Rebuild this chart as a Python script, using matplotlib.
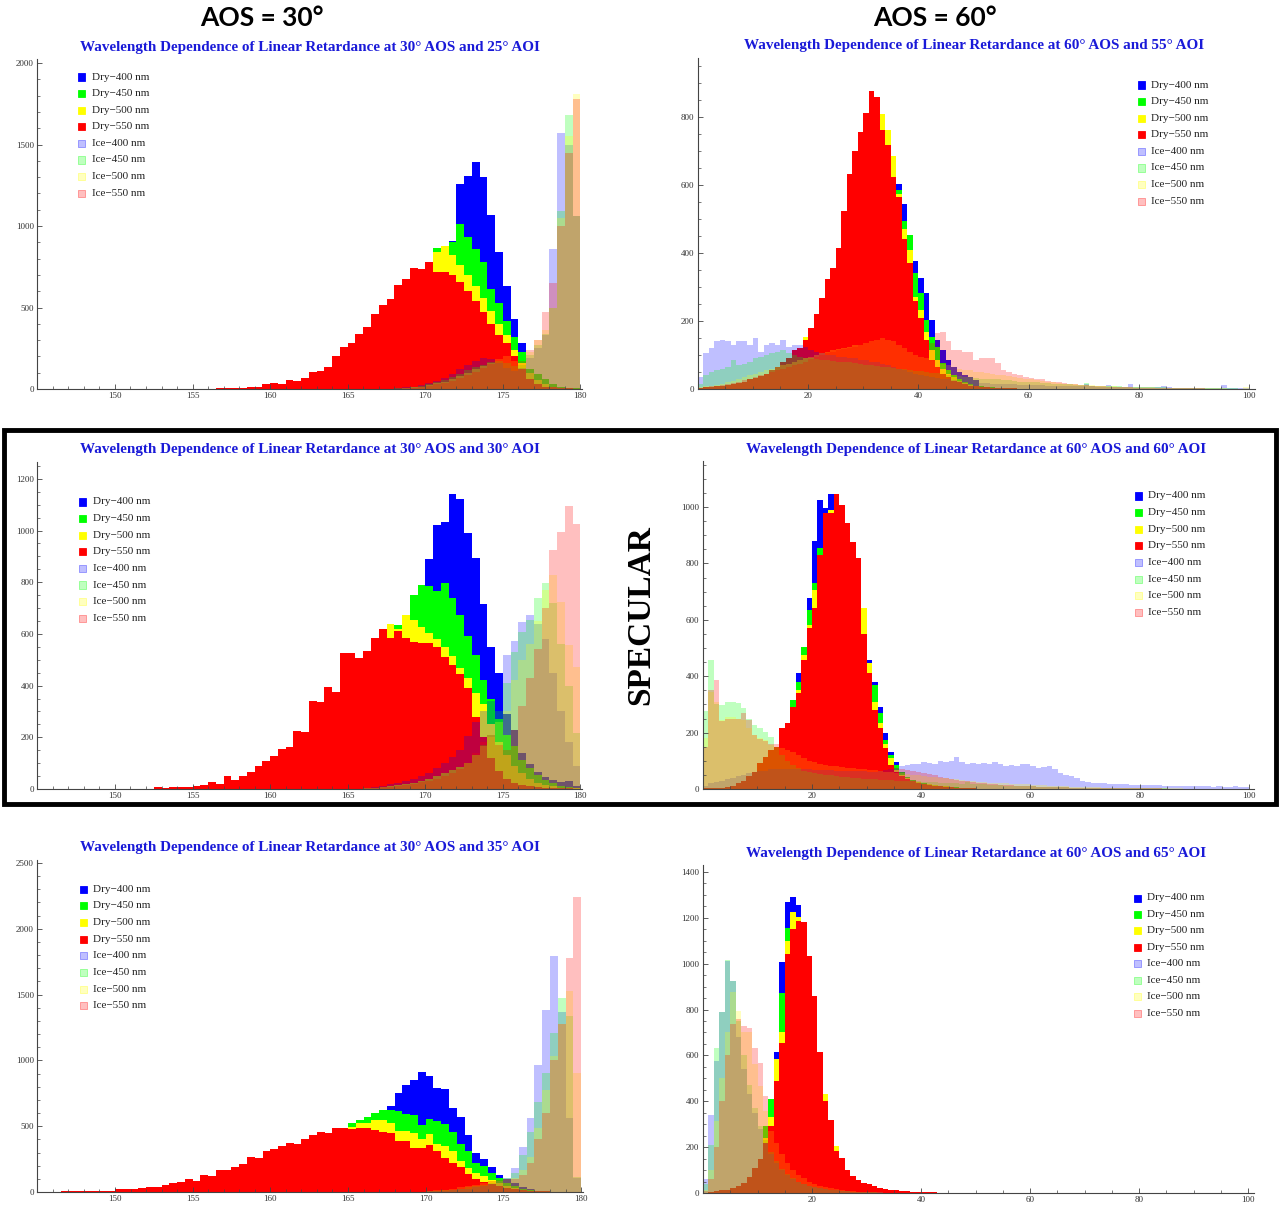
import numpy as np
import matplotlib.pyplot as plt
from matplotlib.patches import Rectangle
from matplotlib.ticker import FixedLocator, MultipleLocator

plt.rcParams['font.family'] = ['Liberation Serif', 'DejaVu Serif']

W, H = 1280, 1209

LABELS = ['Dry\u2212400 nm', 'Dry\u2212450 nm', 'Dry\u2212500 nm', 'Dry\u2212550 nm',
          'Ice\u2212400 nm', 'Ice\u2212450 nm', 'Ice\u2212500 nm', 'Ice\u2212550 nm']
COLORS = ['#0000ff', '#00ff00', '#ffff00', '#ff0000']
ICE_ALPHA = 0.25

# ---------------- 30° AOS, 25° AOI (bins of 0.5°) ----------------
tl_dry_start = 156.5
tl_dry400 = [1, 3, 1, 2, 4, 6, 10, 15, 10, 20, 20, 30, 50, 60, 80, 120,
             160, 180, 220, 260, 310, 360, 400, 460, 500, 560, 600, 660,
             720, 800, 910, 1260, 1305, 1390, 1300, 1065, 840, 635, 430, 285, 100, 50, 20, 10, 5, 3, 2]
tl_dry450 = [2, 4, 2, 3, 6, 8, 15, 20, 15, 30, 30, 40, 65, 75, 95, 150,
             190, 210, 260, 300, 360, 410, 450, 520, 560, 620, 650, 720,
             865, 860, 900, 1015, 935, 860, 780, 615, 530, 420, 320, 225, 120, 90, 60, 30, 15, 8, 4]
tl_dry500 = [3, 5, 3, 4, 8, 10, 20, 25, 20, 40, 38, 50, 80, 90, 110, 170,
             220, 240, 290, 330, 400, 450, 490, 570, 610, 680, 700, 760,
             840, 875, 820, 760, 700, 630, 560, 480, 400, 330, 240, 160, 100, 55, 30, 15, 8, 5, 3]
tl_dry550 = [5, 8, 4, 6, 12, 15, 30, 35, 28, 58, 50, 65, 105, 110, 135, 205,
             260, 280, 335, 380, 460, 515, 550, 640, 675, 745, 735, 778,
             720, 715, 700, 655, 600, 540, 470, 400, 330, 280, 200, 120, 60, 30, 15, 10, 5, 4, 3]
tl_ice_start = 168.0
tl_ice400 = [5, 10, 15, 25, 35, 50, 70, 95, 120, 145, 170, 190, 185, 160, 130, 110, 130, 190, 250, 330, 860, 1570, 1500, 1060]
tl_ice450 = [5, 8, 12, 20, 30, 40, 55, 75, 95, 115, 135, 150, 165, 170, 160, 140, 150, 210, 270, 340, 500, 1090, 1680, 1060]
tl_ice500 = [3, 6, 10, 15, 25, 35, 45, 60, 80, 100, 120, 140, 160, 185, 200, 170, 160, 230, 300, 360, 500, 1050, 1550, 1810]
tl_ice550 = [2, 5, 8, 12, 20, 28, 38, 50, 65, 85, 105, 130, 155, 185, 210, 190, 170, 240, 300, 470, 650, 1000, 1450, 1780]

# ---------------- 30° AOS, 30° AOI ----------------
ml_dry_start = 152.5
ml_dry400 = [2, 1, 2, 1, 3, 4, 6, 10, 8, 20, 15, 25, 35, 45, 55, 70, 85, 95, 130, 140,
             200, 220, 260, 270, 360, 390, 400, 430, 470, 510,
             540, 580, 620, 680, 740, 889, 1021, 1034, 1143, 1120, 990, 893, 715, 548, 447,
             290, 230, 140, 97, 67, 48, 35, 28, 31, 13]
ml_dry450 = [3, 1, 3, 2, 4, 6, 8, 12, 10, 25, 20, 30, 40, 50, 65, 85, 100, 110, 150, 160,
             230, 250, 290, 300, 400, 430, 440, 470, 520, 560,
             600, 635, 660, 750, 790, 785, 765, 795, 740, 672, 592, 518, 421, 350, 270,
             210, 165, 112, 80, 55, 35, 22, 13, 8, 5]
ml_dry500 = [4, 2, 4, 3, 5, 8, 10, 15, 12, 30, 25, 35, 45, 60, 75, 95, 115, 125, 170, 180,
             260, 280, 320, 330, 430, 460, 470, 500, 550, 590,
             640, 620, 672, 655, 628, 605, 580, 550, 515, 470, 430, 370, 330, 250, 180,
             130, 90, 60, 40, 25, 15, 10, 5, 3, 2]
ml_dry550 = [9, 3, 8, 6, 9, 13, 15, 26, 19, 52, 35, 52, 67, 89, 108, 129, 155, 162, 225, 222,
             342, 338, 393, 376, 525, 527, 505, 534, 585, 619,
             583, 611, 583, 567, 563, 563, 549, 512, 480, 443, 389, 280, 200, 120, 70,
             40, 25, 15, 10, 6, 4, 3, 2, 2, 1]
ml_ice_start = 166.0
ml_ice400 = [5, 8, 12, 18, 25, 32, 40, 50, 62, 80, 100, 125, 150, 205, 258, 300, 340, 420, 518, 572, 647, 673, 640, 580, 450, 300, 180, 90]
ml_ice450 = [3, 5, 8, 12, 16, 20, 25, 32, 40, 50, 60, 72, 85, 100, 130, 170, 209, 300, 409, 531, 608, 653, 737, 795, 720, 560, 400, 215]
ml_ice500 = [3, 5, 8, 12, 16, 20, 25, 32, 40, 50, 60, 72, 85, 100, 130, 165, 200, 260, 300, 420, 500, 560, 650, 770, 827, 724, 557, 473]
ml_ice550 = [2, 4, 6, 9, 12, 16, 20, 26, 32, 40, 50, 62, 78, 100, 140, 180, 209, 170, 150, 230, 320, 430, 540, 700, 924, 995, 1094, 1027]

# ---------------- 30° AOS, 35° AOI ----------------
bl_dry_start = 146.5
bl_dry400 = [2, 2, 1, 2, 1, 4, 4, 8, 10, 9, 13, 16, 15, 21, 28, 34, 45, 40, 62, 60,
             85, 90, 105, 120, 155, 155, 195, 210, 235, 260, 265, 300, 330, 360, 365, 410, 440,
             470, 500, 530, 570, 600, 650, 755, 810, 850, 915, 880, 790, 780, 640, 570, 430,
             300, 250, 190, 130, 100, 70, 40, 20, 10, 5, 3, 2, 1, 1]
bl_dry450 = [3, 3, 2, 3, 2, 5, 5, 10, 12, 11, 16, 20, 19, 26, 35, 42, 55, 48, 75, 72,
             100, 105, 125, 140, 180, 180, 225, 240, 265, 290, 290, 325, 355, 385, 385, 430, 460,
             527, 545, 570, 603, 621, 621, 616, 590, 583, 510, 553, 540, 515, 456, 362, 312,
             223, 198, 147, 109, 71, 45, 25, 15, 8, 5, 3, 2, 1, 1]
bl_dry500 = [4, 4, 3, 4, 3, 6, 6, 12, 15, 14, 20, 25, 24, 32, 42, 50, 66, 58, 90, 88,
             120, 125, 145, 165, 205, 205, 250, 265, 290, 315, 315, 350, 380, 410, 410, 450, 470,
             495, 522, 527, 548, 548, 527, 464, 464, 446, 400, 438, 362, 350, 312, 236, 185,
             147, 122, 89, 66, 46, 30, 18, 10, 6, 4, 3, 2, 1, 1]
bl_dry550 = [8, 8, 6, 8, 6, 10, 10, 20, 25, 23, 33, 41, 38, 51, 66, 76, 101, 84, 129, 122,
             167, 167, 193, 215, 269, 261, 312, 324, 350, 375, 365, 400, 431, 456, 446, 489, 484,
             477, 484, 487, 469, 456, 451, 388, 388, 337, 332, 357, 312, 261, 223, 193, 134,
             96, 76, 58, 46, 30, 20, 12, 8, 5, 4, 3, 2, 2, 1]
bl_ice_start = 170.0
bl_ice400 = [5, 8, 10, 15, 20, 25, 35, 45, 60, 80, 110, 180, 344, 560, 965, 1383, 1790, 1370, 560, 110]
bl_ice450 = [5, 8, 12, 18, 25, 35, 45, 55, 70, 90, 110, 142, 281, 458, 686, 902, 1210, 1472, 1340, 115]
bl_ice500 = [8, 12, 18, 25, 35, 45, 55, 65, 75, 85, 95, 110, 167, 268, 484, 775, 1030, 1280, 1530, 905]
bl_ice550 = [10, 15, 20, 30, 40, 50, 60, 70, 80, 90, 95, 100, 130, 220, 400, 600, 1000, 1280, 1780, 2240]

# ---------------- 60° AOS, 55° AOI (bins of 1°) ----------------
tr_dry_start = 0.0
tr_dry400 = [1, 2, 3, 4, 6, 8, 10, 12, 15, 18, 22, 26, 30, 36, 44, 54, 65, 80, 95, 120,
             150, 190, 230, 280, 310, 360, 460, 560, 630, 690, 740, 780, 780, 740, 700, 650, 603, 545, 430, 377,
             326, 282, 203, 144, 115, 85, 66, 51, 41, 36, 27, 10, 6, 5, 4, 3, 2, 2, 1, 1]
tr_dry450 = [1, 2, 3, 5, 7, 9, 11, 14, 17, 20, 24, 28, 33, 40, 48, 58, 70, 85, 100, 130,
             160, 200, 240, 300, 330, 380, 480, 580, 650, 710, 760, 800, 800, 760, 720, 660, 585, 493, 454, 341,
             282, 203, 154, 125, 76, 55, 40, 30, 22, 15, 10, 8, 6, 5, 4, 3, 2, 2, 1, 1]
tr_dry500 = [1, 3, 4, 6, 8, 10, 12, 15, 18, 22, 26, 30, 36, 44, 52, 62, 75, 90, 110, 152,
             175, 215, 260, 318, 350, 405, 515, 620, 690, 750, 805, 860, 850, 808, 761, 684, 575, 470, 410, 272,
             233, 169, 115, 85, 60, 45, 35, 25, 18, 12, 8, 6, 5, 4, 3, 2, 2, 1, 1, 1]
tr_dry550 = [2, 5, 5, 8, 10, 12, 15, 18, 22, 28, 32, 38, 45, 55, 65, 78, 92, 115, 120, 145,
             178, 222, 267, 325, 355, 414, 524, 632, 700, 757, 813, 877, 859, 761, 717, 624, 565, 440, 370, 260,
             208, 144, 85, 66, 45, 35, 25, 20, 15, 10, 8, 6, 5, 4, 3, 3, 2, 2, 1, 1]
tr_ice_start = 0.0
tr_ice400 = [36, 105, 120, 140, 145, 140, 130, 140, 140, 130, 150, 110, 130, 135, 130, 145, 125, 130, 130, 125,
             115, 110, 105, 100, 100, 95, 95, 90, 90, 85, 85, 80, 80, 75, 70, 65, 60, 55, 50, 45,
             40, 38, 35, 33, 30, 28, 26, 24, 22, 20, 20, 18, 18, 16, 16, 15, 14, 14, 13, 12,
             12, 11, 11, 10, 10, 10, 9, 9, 8, 8, 15, 8, 7, 7, 12, 7, 6, 6, 14, 6,
             6, 5, 5, 5, 8, 5, 4, 4, 4, 4, 4, 3, 3, 3, 3, 12, 3, 2, 2, 2]
tr_ice450 = [15, 40, 50, 55, 60, 65, 85, 70, 75, 80, 90, 95, 100, 105, 110, 115, 105, 100, 95, 90,
             90, 88, 85, 85, 82, 80, 80, 78, 76, 74, 72, 70, 68, 66, 64, 62, 60, 58, 56, 54,
             52, 50, 48, 46, 44, 42, 40, 38, 36, 34, 32, 30, 30, 28, 28, 26, 26, 24, 22, 22,
             20, 20, 18, 18, 16, 16, 14, 14, 12, 12, 18, 10, 10, 9, 9, 8, 8, 7, 7, 6,
             6, 6, 5, 5, 5, 4, 4, 4, 3, 3, 3, 3, 2, 2, 2, 2, 2, 2, 1, 1]
tr_ice500 = [5, 8, 10, 12, 15, 20, 25, 30, 35, 40, 45, 50, 55, 60, 65, 70, 75, 80, 85, 90,
             95, 100, 105, 110, 115, 118, 120, 125, 128, 130, 135, 140, 145, 150, 145, 140, 130, 120, 110, 100,
             95, 90, 85, 80, 75, 70, 65, 60, 55, 55, 50, 50, 48, 45, 42, 40, 38, 35, 32, 30,
             28, 26, 24, 22, 20, 18, 16, 15, 14, 13, 12, 11, 10, 9, 8, 8, 7, 7, 6, 6,
             5, 5, 5, 4, 4, 4, 3, 3, 3, 3, 2, 2, 2, 2, 2, 2, 1, 1, 1, 6]
tr_ice550 = [3, 5, 8, 10, 12, 15, 18, 22, 26, 30, 35, 40, 45, 50, 55, 60, 65, 70, 75, 80,
             88, 95, 100, 105, 110, 115, 118, 120, 125, 130, 135, 140, 145, 155, 160, 150, 150, 145, 140, 140,
             135, 130, 135, 165, 169, 140, 115, 115, 110, 110, 85, 90, 90, 90, 76, 56, 50, 45, 40, 35,
             32, 30, 28, 25, 22, 20, 18, 16, 14, 12, 11, 10, 9, 8, 7, 6, 6, 5, 5, 4,
             4, 4, 3, 3, 3, 3, 2, 2, 2, 2, 2, 2, 1, 1, 1, 1, 1, 1, 1, 1]

# ---------------- 60° AOS, 60° AOI ----------------
mr_dry_start = 0.0
mr_dry400 = [1, 2, 3, 4, 6, 10, 15, 24, 36, 50, 78, 98, 118, 135, 200, 225, 300, 410, 470, 677,
             878, 1026, 996, 1047, 1030, 985, 915, 840, 780, 600, 458, 380, 290, 200, 132, 95, 62, 42, 32, 25,
             20, 16, 14, 12, 10, 8, 6, 5, 4, 3]
mr_dry450 = [1, 2, 3, 4, 6, 10, 15, 24, 36, 50, 78, 98, 118, 135, 205, 230, 316, 380, 505, 635,
             730, 854, 965, 975, 1020, 980, 920, 850, 790, 600, 440, 369, 270, 175, 120, 85, 60, 42, 32, 25,
             20, 16, 14, 12, 10, 8, 6, 5, 4, 3]
mr_dry500 = [1, 2, 3, 4, 6, 10, 16, 25, 38, 52, 80, 100, 120, 140, 200, 225, 285, 351, 475, 582,
             706, 820, 960, 990, 1030, 990, 930, 860, 800, 641, 446, 310, 233, 158, 109, 67, 50, 38, 30, 24,
             19, 16, 13, 11, 9, 7, 5, 4, 3, 2]
mr_dry550 = [2, 3, 4, 5, 8, 12, 20, 30, 45, 60, 91, 115, 138, 150, 215, 233, 292, 340, 458, 570,
             641, 830, 978, 978, 1046, 1007, 942, 875, 818, 549, 410, 280, 215, 144, 85, 60, 45, 35, 28, 22,
             18, 15, 12, 10, 8, 6, 5, 4, 3, 2]
mr_ice_start = 0.0
mr_ice400 = [10, 20, 25, 30, 35, 40, 45, 50, 55, 60, 65, 65, 70, 70, 70, 70, 70, 70, 70, 70,
             68, 68, 66, 66, 65, 65, 64, 64, 63, 63, 62, 62, 65, 68, 70, 75, 80, 85, 88, 90,
             95, 92, 90, 100, 95, 98, 115, 95, 90, 92, 88, 92, 90, 95, 88, 80, 85, 82, 88, 90,
             82, 75, 78, 80, 70, 55, 50, 45, 40, 30, 25, 22, 20, 20, 18, 18, 16, 16, 15, 15,
             14, 14, 13, 13, 12, 12, 11, 11, 10, 10, 10, 9, 9, 8, 12, 8, 7, 10, 7, 6]
mr_ice450 = [275, 458, 300, 298, 310, 310, 304, 286, 250, 227, 215, 203, 186, 150, 120, 100, 85, 75, 65, 60,
             55, 52, 50, 48, 46, 44, 42, 40, 38, 36, 35, 34, 33, 32, 31, 30, 30, 29, 28, 27,
             26, 25, 24, 23, 22, 21, 20, 19, 25, 18, 17, 16, 15, 14, 13, 12, 11, 10, 10, 9,
             9, 8, 8, 7, 7, 6, 6, 5, 5, 5, 4, 4, 4, 3, 3, 3, 3, 2, 2, 2,
             2, 2, 2, 2, 2, 1, 1, 1, 1, 1, 1, 1, 1, 1, 1, 1, 1, 1, 1, 1]
mr_ice500 = [180, 345, 310, 245, 257, 257, 250, 245, 215, 192, 180, 174, 156, 150, 145, 140, 130, 120, 110, 100,
             95, 90, 86, 82, 80, 78, 76, 74, 72, 70, 68, 66, 64, 62, 60, 58, 55, 52, 50, 48,
             46, 44, 42, 40, 38, 36, 34, 32, 30, 28, 26, 24, 23, 22, 21, 20, 19, 18, 17, 16,
             15, 14, 13, 12, 11, 10, 9, 8, 8, 7, 7, 6, 6, 5, 5, 4, 4, 4, 3, 3,
             3, 3, 2, 2, 2, 2, 2, 2, 1, 1, 1, 1, 1, 1, 1, 1, 1, 1, 1, 1]
mr_ice550 = [150, 350, 387, 240, 250, 250, 248, 268, 245, 190, 178, 170, 160, 158, 155, 150, 145, 140, 135, 130,
             125, 122, 120, 118, 116, 114, 112, 110, 106, 102, 98, 94, 90, 86, 80, 76, 72, 68, 64, 60,
             56, 52, 48, 44, 40, 36, 33, 30, 27, 25, 23, 21, 19, 17, 15, 14, 13, 12, 11, 10,
             9, 8, 8, 7, 7, 6, 6, 5, 5, 4, 4, 4, 3, 3, 3, 3, 2, 2, 2, 2,
             2, 2, 2, 2, 1, 1, 1, 1, 1, 1, 1, 1, 1, 1, 1, 1, 1, 1, 1, 1]

# ---------------- 60° AOS, 65° AOI ----------------
br_dry_start = 0.0
br_dry400 = [1, 2, 4, 8, 10, 14, 20, 30, 50, 70, 100, 200, 300, 615, 1005, 1268, 1292, 1256, 1150, 1010,
             840, 590, 380, 300, 170, 140, 90, 64, 50, 38, 32, 24, 18, 14, 11, 9, 7, 6, 5, 4,
             3, 3, 2, 2, 2, 1, 1, 1, 1, 1]
br_dry450 = [1, 3, 5, 10, 12, 16, 24, 36, 55, 78, 115, 291, 411, 560, 870, 1155, 1200, 1190, 1160, 1020,
             845, 600, 390, 305, 180, 145, 95, 67, 53, 40, 34, 26, 19, 15, 12, 10, 8, 6, 5, 4,
             3, 3, 2, 2, 2, 1, 1, 1, 1, 1]
br_dry500 = [1, 4, 6, 12, 14, 18, 26, 40, 62, 85, 130, 240, 330, 583, 700, 1100, 1224, 1202, 1170, 1025,
             850, 605, 430, 310, 204, 150, 98, 70, 56, 42, 36, 28, 20, 16, 13, 11, 9, 7, 5, 4,
             3, 3, 2, 2, 2, 1, 1, 1, 1, 1]
br_dry550 = [2, 5, 8, 15, 15, 20, 30, 45, 70, 110, 150, 220, 290, 488, 656, 1042, 1150, 1187, 1180, 1035,
             860, 615, 400, 320, 182, 153, 102, 73, 58, 44, 40, 30, 22, 18, 15, 12, 10, 8, 6, 5,
             4, 3, 3, 2, 2, 2, 1, 1, 1, 1]
br_ice_start = 0.0
br_ice400 = [60, 342, 575, 790, 1010, 925, 680, 540, 430, 350, 280, 220, 170, 130, 100, 80, 62, 50, 40, 32,
             26, 21, 17, 14, 11, 9, 8, 6, 5, 4, 4, 3, 3, 2, 2, 2, 1, 1, 1, 1]
br_ice450 = [40, 211, 634, 790, 1015, 925, 750, 600, 470, 370, 290, 230, 180, 140, 105, 82, 64, 50, 40, 32,
             26, 21, 17, 14, 11, 9, 7, 6, 5, 4, 3, 3, 2, 2, 2, 1, 1, 1, 1, 1]
br_ice500 = [15, 100, 313, 503, 700, 877, 794, 700, 700, 561, 466, 357, 270, 220, 170, 130, 100, 80, 65, 50,
             40, 32, 26, 20, 16, 13, 10, 8, 6, 5, 4, 3, 3, 2, 2, 2, 1, 1, 1, 1]
br_ice550 = [10, 60, 200, 400, 600, 736, 758, 729, 718, 634, 568, 423, 280, 248, 204, 153, 124, 102, 85, 70,
             58, 48, 40, 33, 27, 22, 18, 15, 12, 10, 8, 7, 6, 5, 4, 3, 3, 2, 2, 2]

PANELS = [
    dict(title='Wavelength Dependence of Linear Retardance at 30\u00b0 AOS and 25\u00b0 AOI',
         bw=0.5, dry_start=tl_dry_start, dry=[tl_dry400, tl_dry450, tl_dry500, tl_dry550],
         ice_start=tl_ice_start, ice=[tl_ice400, tl_ice450, tl_ice500, tl_ice550],
         xlim=(145, 180.1), ylim=(0, 2025), box=(37.4, 582.0, 389, 59),
         xticks=[150, 155, 160, 165, 170, 175, 180], xminor=1, yticks=range(0, 2001, 500), yminor=100,
         title_xy=(310, 47), legend=(81, 77, 92, 16.6)),
    dict(title='Wavelength Dependence of Linear Retardance at 60\u00b0 AOS and 55\u00b0 AOI',
         bw=1.0, dry_start=tr_dry_start, dry=[tr_dry400, tr_dry450, tr_dry500, tr_dry550],
         ice_start=tr_ice_start, ice=[tr_ice400, tr_ice450, tr_ice500, tr_ice550],
         xlim=(0, 101), ylim=(0, 975), box=(697.8, 1254.5, 389, 57.5),
         xticks=[20, 40, 60, 80, 100], xminor=5, yticks=range(0, 801, 200), yminor=50,
         title_xy=(974, 46), legend=(1141, 85, 1151, 16.6)),
    dict(title='Wavelength Dependence of Linear Retardance at 30\u00b0 AOS and 30\u00b0 AOI',
         bw=0.5, dry_start=ml_dry_start, dry=[ml_dry400, ml_dry450, ml_dry500, ml_dry550],
         ice_start=ml_ice_start, ice=[ml_ice400, ml_ice450, ml_ice500, ml_ice550],
         xlim=(145, 180.1), ylim=(0, 1265), box=(37.4, 582.0, 789, 462),
         xticks=[150, 155, 160, 165, 170, 175, 180], xminor=1, yticks=range(0, 1201, 200), yminor=50,
         title_xy=(310, 450), legend=(82, 502, 93, 16.6)),
    dict(title='Wavelength Dependence of Linear Retardance at 60\u00b0 AOS and 60\u00b0 AOI',
         bw=1.0, dry_start=mr_dry_start, dry=[mr_dry400, mr_dry450, mr_dry500, mr_dry550],
         ice_start=mr_ice_start, ice=[mr_ice400, mr_ice450, mr_ice500, mr_ice550],
         xlim=(0, 101), ylim=(0, 1165), box=(702.8, 1254.4, 789, 460.5),
         xticks=[20, 40, 60, 80, 100], xminor=5, yticks=range(0, 1001, 200), yminor=50,
         title_xy=(976, 450), legend=(1138, 496, 1148, 16.6)),
    dict(title='Wavelength Dependence of Linear Retardance at 30\u00b0 AOS and 35\u00b0 AOI',
         bw=0.5, dry_start=bl_dry_start, dry=[bl_dry400, bl_dry450, bl_dry500, bl_dry550],
         ice_start=bl_ice_start, ice=[bl_ice400, bl_ice450, bl_ice500, bl_ice550],
         xlim=(145, 180.1), ylim=(0, 2525), box=(37.3, 582.6, 1192, 859.7),
         xticks=[150, 155, 160, 165, 170, 175, 180], xminor=1, yticks=range(0, 2501, 500), yminor=100,
         title_xy=(310, 848), legend=(83, 889, 93, 16.7)),
    dict(title='Wavelength Dependence of Linear Retardance at 60\u00b0 AOS and 65\u00b0 AOI',
         bw=1.0, dry_start=br_dry_start, dry=[br_dry400, br_dry450, br_dry500, br_dry550],
         ice_start=br_ice_start, ice=[br_ice400, br_ice450, br_ice500, br_ice550],
         xlim=(0, 101), ylim=(0, 1430), box=(703.0, 1253.5, 1193, 865),
         xticks=[20, 40, 60, 80, 100], xminor=5, yticks=range(0, 1401, 200), yminor=50,
         title_xy=(976, 853), legend=(1137, 898, 1147, 16.45)),
]


def fx(x):
    return x / W


def fy(y):
    return 1 - y / H


def tint(c, a):
    # colour of a translucent fill seen over white
    rgb = np.array(plt.matplotlib.colors.to_rgb(c))
    return tuple(1 - a * (1 - rgb))


fig = plt.figure(figsize=(W / 100, H / 100), dpi=100)

for p in PANELS:
    x0, x1, yb, yt = p['box']
    ax = fig.add_axes([fx(x0), fy(yb), (x1 - x0) / W, (yb - yt) / H])
    ax.patch.set_alpha(0)

    # opaque dry histograms first, translucent ice histograms over them
    for vals, c in zip(p['dry'], COLORS):
        edges = p['dry_start'] + p['bw'] * np.arange(len(vals) + 1)
        ax.stairs(vals, edges, fill=True, color=c, lw=0)
    for vals, c in zip(p['ice'], COLORS):
        edges = p['ice_start'] + p['bw'] * np.arange(len(vals) + 1)
        ax.stairs(vals, edges, fill=True, color=c, alpha=ICE_ALPHA, lw=0)

    ax.set_xlim(*p['xlim'])
    ax.set_ylim(*p['ylim'])
    for s in ('top', 'right'):
        ax.spines[s].set_visible(False)
    for s in ('left', 'bottom'):
        ax.spines[s].set_color('#444444')
        ax.spines[s].set_linewidth(0.8)
    ax.xaxis.set_major_locator(FixedLocator(p['xticks']))
    ax.xaxis.set_minor_locator(MultipleLocator(p['xminor']))
    ax.yaxis.set_major_locator(FixedLocator(list(p['yticks'])))
    ax.yaxis.set_minor_locator(MultipleLocator(p['yminor']))
    ax.tick_params(which='major', direction='in', length=3.5, width=0.6, color='#444444',
                   labelsize=6.5, labelcolor='#333333', pad=2.5)
    ax.tick_params(which='minor', direction='in', length=2, width=0.5, color='#444444')

    tx, ty = p['title_xy']
    fig.text(fx(tx), fy(ty), p['title'], ha='center', va='center', fontsize=10.9,
             fontweight='bold', color='#1a1ad8')

    sx, sy, lx, step = p['legend']
    for i, lab in enumerate(LABELS):
        y = sy + i * step
        c = COLORS[i % 4]
        if i < 4:
            face, edge = c, c
        else:
            face, edge = tint(c, ICE_ALPHA), tint(c, 0.45)
        fig.add_artist(Rectangle((fx(sx - 3.5), fy(y + 3.5)), 7 / W, 7 / H, transform=fig.transFigure,
                                 facecolor=face, edgecolor=edge, lw=0.6))
        fig.text(fx(lx), fy(y), lab, ha='left', va='center', fontsize=8, color='#222222')

fig.text(fx(262), fy(18), 'AOS = 30\u00b0', ha='center', va='center', fontsize=19,
         fontweight='bold', family=['Lato', 'DejaVu Sans'])
fig.text(fx(935), fy(18), 'AOS = 60\u00b0', ha='center', va='center', fontsize=19,
         fontweight='bold', family=['Lato', 'DejaVu Sans'])
fig.text(fx(641), fy(615), 'SPECULAR', ha='center', va='center', rotation=90, fontsize=24,
         fontweight='bold')

# frame round the specular row
fig.add_artist(Rectangle((fx(4), fy(804)), 1272 / W, 374 / H, transform=fig.transFigure,
                         fill=False, edgecolor='black', lw=3.5))

fig.savefig('out.png', dpi=100)
